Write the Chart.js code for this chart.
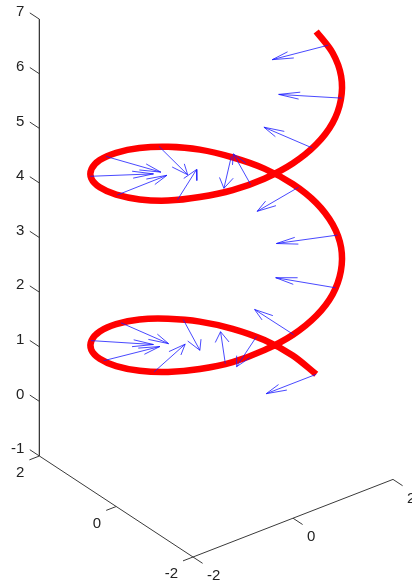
<!DOCTYPE html>
<html>
<head>
<meta charset="utf-8">
<title>Helix with normals</title>
<script src="https://cdn.jsdelivr.net/npm/chart.js@4"></script>
<style>
html, body { margin: 0; padding: 0; background: #ffffff; overflow: hidden; }
canvas { display: block; }
</style>
</head>
<body>
<canvas id="helixChart" width="412" height="586"></canvas>
<script>
// helix curve
var helixX = [2, 1.93, 1.73, 1.41, 1, 0.52, 0, -0.52, -1, -1.41, -1.73, -1.93, -2, -1.93, -1.73, -1.41, -1, -0.52, 0, 0.52, 1, 1.41, 1.73, 1.93,
              2, 1.93, 1.73, 1.41, 1, 0.52, 0, -0.52, -1, -1.41, -1.73, -1.93, -2, -1.93, -1.73, -1.41, -1, -0.52, 0, 0.52, 1, 1.41, 1.73, 1.93, 2];
var helixY = [0, 0.52, 1, 1.41, 1.73, 1.93, 2, 1.93, 1.73, 1.41, 1, 0.52, 0, -0.52, -1, -1.41, -1.73, -1.93, -2, -1.93, -1.73, -1.41, -1, -0.52,
              0, 0.52, 1, 1.41, 1.73, 1.93, 2, 1.93, 1.73, 1.41, 1, 0.52, 0, -0.52, -1, -1.41, -1.73, -1.93, -2, -1.93, -1.73, -1.41, -1, -0.52, 0];
var helixZ = [0, 0.13, 0.26, 0.39, 0.52, 0.65, 0.79, 0.92, 1.05, 1.18, 1.31, 1.44, 1.57, 1.70, 1.83, 1.96, 2.09, 2.23, 2.36, 2.49, 2.62, 2.75, 2.88, 3.01,
              3.14, 3.27, 3.40, 3.53, 3.67, 3.80, 3.93, 4.06, 4.19, 4.32, 4.45, 4.58, 4.71, 4.84, 4.97, 5.11, 5.24, 5.37, 5.50, 5.63, 5.76, 5.89, 6.02, 6.15, 6.28];

// arrows: tail position and direction
var arrowX = [2, 1.66, 0.76, -0.40, -1.42, -1.96, -1.84, -1.10, 0.01, 1.12, 1.85, 1.96, 1.40, 0.37, -0.79, -1.68, -2, -1.65, -0.74, 0.42, 1.44, 1.97];
var arrowY = [0, 1.11, 1.85, 1.96, 1.41, 0.38, -0.78, -1.67, -2, -1.65, -0.75, 0.41, 1.43, 1.97, 1.84, 1.09, -0.03, -1.14, -1.86, -1.95, -1.39, -0.35];
var arrowZ = [0, 0.30, 0.59, 0.89, 1.18, 1.48, 1.77, 2.07, 2.36, 2.66, 2.95, 3.25, 3.54, 3.84, 4.13, 4.43, 4.72, 5.02, 5.31, 5.61, 5.90, 6.20];
var arrowU = [-1, -0.83, -0.38, 0.20, 0.71, 0.98, 0.92, 0.55, -0.01, -0.56, -0.93, -0.98, -0.70, -0.18, 0.39, 0.84, 1, 0.82, 0.37, -0.21, -0.72, -0.98];
var arrowV = [0, -0.56, -0.93, -0.98, -0.70, -0.19, 0.39, 0.84, 1, 0.83, 0.38, -0.20, -0.72, -0.98, -0.92, -0.55, 0.01, 0.57, 0.93, 0.98, 0.70, 0.18];

var xTicks = [-2, 0, 2];
var yTicks = [-2, 0, 2];
var zTicks = [-1, 0, 1, 2, 3, 4, 5, 6, 7];

// view of the 3d box on the page
function project(x, y, z) {
    return {
        x: 216.2 + 50 * x - 38.4 * y,
        y: 413.1 - 19.4 * x - 25.25 * y - 54.6 * z
    };
}

function helixPoints() {
    return helixX.map(function (x, i) {
        return project(x, helixY[i], helixZ[i]);
    });
}

function arrowPoints() {
    var gap = { x: NaN, y: NaN };
    var alpha = 0.33, beta = 0.33;
    var pts = [];
    arrowX.forEach(function (x, i) {
        var y = arrowY[i], z = arrowZ[i], u = arrowU[i], v = arrowV[i];
        var tipX = x + u, tipY = y + v;
        pts.push(project(x, y, z), project(tipX, tipY, z), gap);
        pts.push(project(tipX - alpha * (u + beta * v), tipY - alpha * (v - beta * u), z));
        pts.push(project(tipX, tipY, z));
        pts.push(project(tipX - alpha * (u - beta * v), tipY - alpha * (v + beta * u), z), gap);
    });
    return pts;
}

function axisPoints() {
    var gap = { x: NaN, y: NaN };
    var pts = [
        project(-2, 2, 7), project(-2, 2, -1), project(-2, -2, -1), project(2, -2, -1), gap
    ];
    zTicks.forEach(function (z) {
        pts.push(project(-2, 2, z), project(-2, 2.25, z), gap);
    });
    xTicks.forEach(function (x) {
        pts.push(project(x, -2, -1), project(x, -2.25, -1), gap);
    });
    yTicks.forEach(function (y) {
        pts.push(project(-2, y, -1), project(-2.2, y, -1), gap);
    });
    return pts;
}

var tickLabels = {
    id: 'tickLabels',
    afterDatasetsDraw: function (chart) {
        var ctx = chart.ctx;
        var sx = chart.scales.x, sy = chart.scales.y;
        function label(p, dx, dy, text, align) {
            ctx.textAlign = align;
            ctx.fillText(text, sx.getPixelForValue(p.x) + dx, sy.getPixelForValue(p.y) + dy);
        }
        ctx.save();
        ctx.font = '15px "Liberation Sans"';
        ctx.fillStyle = '#222222';
        ctx.textBaseline = 'middle';
        zTicks.forEach(function (z) {
            label(project(-2, 2, z), -15, -7, String(z), 'right');
        });
        yTicks.forEach(function (y) {
            label(project(-2, y, -1), -15, 17, String(y), 'right');
        });
        xTicks.forEach(function (x) {
            label(project(x, -2, -1), 14, 19, String(x), 'left');
        });
        ctx.restore();
    }
};

new Chart(document.getElementById('helixChart'), {
    type: 'scatter',
    data: {
        datasets: [
            {
                data: arrowPoints(),
                showLine: true, pointRadius: 0, tension: 0,
                borderColor: '#1a1aff', borderWidth: 0.8, order: 1
            },
            {
                data: helixPoints(),
                showLine: true, pointRadius: 0, tension: 0.33,
                borderColor: '#ff0000', borderWidth: 6.5,
                borderCapStyle: 'butt', borderJoinStyle: 'round', order: 2
            },
            {
                data: axisPoints(),
                showLine: true, pointRadius: 0, tension: 0,
                borderColor: '#3a3a3a', borderWidth: 1, order: 3
            }
        ]
    },
    options: {
        responsive: false,
        animation: false,
        layout: { padding: 0 },
        plugins: {
            legend: { display: false },
            tooltip: { enabled: false }
        },
        scales: {
            x: { type: 'linear', min: 0, max: 412, display: false },
            y: { type: 'linear', min: 0, max: 586, reverse: true, display: false }
        }
    },
    plugins: [tickLabels]
});
</script>
</body>
</html>
